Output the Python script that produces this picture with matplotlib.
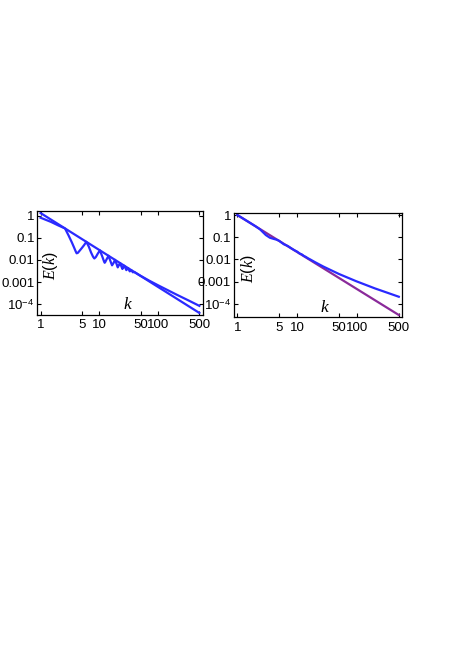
import matplotlib
matplotlib.use("Agg")
import matplotlib.pyplot as plt
from matplotlib.ticker import FixedLocator, FixedFormatter, NullLocator

# ---------------- data ----------------
x_ticks = [1, 5, 10, 50, 100, 500]
x_ticklabels = ["1", "5", "10", "50", "100", "500"]
y_ticks = [1, 0.1, 0.01, 0.001, 1e-4]
y_ticklabels = ["1", "0.1", "0.01", "0.001", r"$10^{-4}$"]

# left panel: reference k^(-5/3) line
left_line_k = [1, 500]
left_line_E = [1.3, 4.13e-5]

# left panel: oscillating spectrum
left_osc_k = [1.0, 1.5, 2.0, 2.6, 3.0, 3.4, 3.7, 3.95, 4.1, 4.3, 4.6, 5.0, 5.5, 6.0,
              6.6, 7.2, 7.8, 8.2, 8.7, 9.4, 10.2,
              11.2, 12.0, 12.3, 12.6, 13.2, 14.3,
              15.5, 16.4, 17.4, 18.4,
              19.5, 20.5, 21.5, 22.5,
              23.5, 24.6, 25.6, 26.6,
              28.7, 30.7, 32.8, 34.9, 37.0, 39.0,
              50, 70, 100, 200, 350, 500]
left_osc_E = [0.80, 0.52, 0.36, 0.264, 0.125, 0.062, 0.037, 0.0245, 0.0200, 0.0210, 0.026, 0.034, 0.047, 0.0656,
              0.040, 0.022, 0.0140, 0.0117, 0.0136, 0.0195, 0.0271,
              0.01425, 0.0085, 0.0075, 0.0082, 0.0105, 0.01545,
              0.0085, 0.00575, 0.00735, 0.01014,
              0.00682, 0.00465, 0.00593, 0.00724,
              0.00536, 0.00394, 0.00475, 0.00548,
              0.0035, 0.00432, 0.00307, 0.00348, 0.00279, 0.0029,
              0.00195, 0.00118, 7.2e-4, 2.85e-4, 1.38e-4, 8.6e-5]

# right panel: k^(-5/3) line
right_line_k = [1, 500]
right_line_E = [1.0, 3.17e-5]

# right panel: spectrum
right_spec_k = [1.0, 1.5, 2.0, 2.4, 3.0, 3.5, 4.0, 4.5, 5.0, 5.5, 6.0, 6.5, 7.0, 8.0,
                9.0, 10.0, 11.0, 12.0, 13.0, 14.0, 15.0, 17.0, 20.0, 27.5, 50, 97, 200, 300, 500]
right_spec_E = [1.0, 0.51, 0.315, 0.225, 0.125, 0.095, 0.085, 0.078, 0.069, 0.057, 0.048, 0.044,
                0.040, 0.0316, 0.026, 0.0225, 0.0185, 0.0168, 0.0143, 0.0130, 0.0115, 0.0096,
                0.0075, 0.00477, 0.00222, 1.05e-3, 4.97e-4, 3.4e-4, 2.1e-4]

BLUE = "#2a2aff"
PURPLE = "#8a2a9a"

plt.rcParams['font.family'] = ['Liberation Sans', 'DejaVu Sans']
plt.rcParams['mathtext.fontset'] = 'custom'
plt.rcParams['mathtext.rm'] = 'Liberation Sans'
plt.rcParams['mathtext.it'] = 'Liberation Serif:italic'

fig = plt.figure(figsize=(4.63, 6.55), dpi=100)
axL = fig.add_axes([0.0806, 0.5198, 0.3568, 0.158])
axR = fig.add_axes([0.5054, 0.516, 0.3629, 0.1588])

def style(ax, ylim):
    ax.set_xscale("log")
    ax.set_yscale("log")
    ax.set_xlim(0.88, 566)
    ax.set_ylim(*ylim)
    ax.xaxis.set_major_locator(FixedLocator(x_ticks))
    ax.xaxis.set_major_formatter(FixedFormatter(x_ticklabels))
    ax.xaxis.set_minor_locator(NullLocator())
    ax.yaxis.set_major_locator(FixedLocator(y_ticks))
    ax.yaxis.set_major_formatter(FixedFormatter(y_ticklabels))
    ax.yaxis.set_minor_locator(NullLocator())
    ax.tick_params(direction="in", length=3, width=0.8, top=True, right=True,
                   labelsize=9.5, pad=2)
    ax.tick_params(axis="x", pad=3.5)
    for s in ax.spines.values():
        s.set_linewidth(0.9)

style(axL, (3.5e-5, 1.6))
axL.plot(left_line_k, left_line_E, color=BLUE, lw=1.6)
axL.plot(left_osc_k, left_osc_E, color=BLUE, lw=1.6)
axL.text(0.08, 0.47, "$E(k)$", transform=axL.transAxes, rotation=90,
         fontsize=11.5, ha="center", va="center")
axL.text(0.55, 0.1, "$k$", transform=axL.transAxes,
         fontsize=12.5, ha="center", va="center")

style(axR, (10**-4.59, 10**0.09))
axR.plot(right_line_k, right_line_E, color=PURPLE, lw=1.6)
axR.plot(right_spec_k, right_spec_E, color=BLUE, lw=1.6)
axR.text(0.085, 0.47, "$E(k)$", transform=axR.transAxes, rotation=90,
         fontsize=11.5, ha="center", va="center")
axR.text(0.54, 0.1, "$k$", transform=axR.transAxes,
         fontsize=12.5, ha="center", va="center")

fig.savefig("out.png", dpi=100)
